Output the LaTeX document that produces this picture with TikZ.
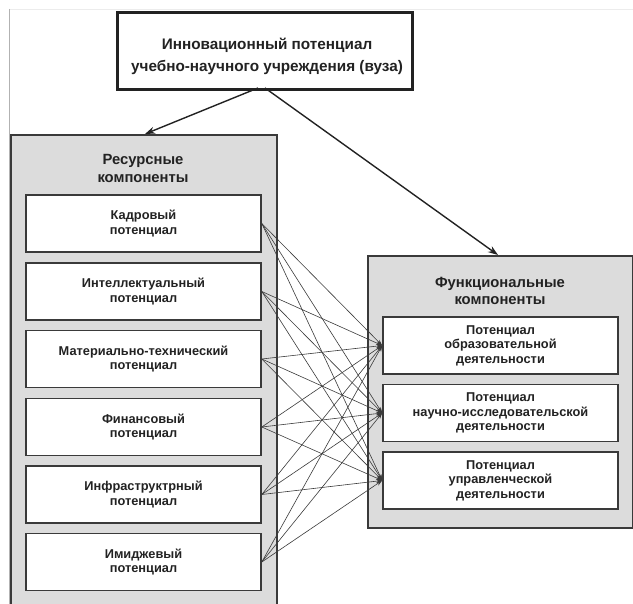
\documentclass[tikz,border=0pt]{standalone}
\usepackage{fontspec}
\setmainfont{Liberation Sans}
\usetikzlibrary{arrows.meta}
\definecolor{panel}{HTML}{DCDCDC}
\definecolor{edge}{HTML}{3A3A3A}
\definecolor{ink}{HTML}{222222}
\begin{document}
\begin{tikzpicture}[x=1pt,y=-1pt,
  inbox/.style={draw=edge, line width=1.6pt, fill=white, minimum width=235pt, minimum height=57pt, inner sep=0pt},
  panelbox/.style={draw=edge, line width=1.6pt, fill=panel, inner sep=0pt},
  boxtext/.style={font=\bfseries\fontsize{12.8}{14.5}\selectfont, text=ink, align=center},
  titletext/.style={font=\bfseries\fontsize{14.8}{17.5}\selectfont, text=ink, align=center},
  link/.style={draw=edge, line width=0.6pt, -{Stealth[length=6pt,width=4pt]}},
  mainarrow/.style={draw=ink, line width=1.4pt, -{Stealth[length=10pt,width=7pt]}}]
\useasboundingbox (0,0) rectangle (633,604);
\clip (0,0) rectangle (633,604);
% faint frame
\draw[gray!15, line width=0.6pt] (9,9) -- (633,9);
\draw[gray!60, line width=1pt] (9,9) -- (9,604);
% panels
\node[panelbox, minimum width=266pt, minimum height=490pt, anchor=north west] (res) at (10,134) {};
\node[panelbox, minimum width=265pt, minimum height=272pt, anchor=north west] (fun) at (367,255) {};
\node[titletext] (restitle) at (143,168.5) {Ресурсные\\компоненты};
\node[titletext] (funtitle) at (500,291) {Функциональные\\компоненты};
% top box
\node[draw=ink, line width=2.6pt, fill=white, minimum width=295pt, minimum height=77pt, anchor=north west, inner sep=0pt] (top) at (116,11) {};
\node[font=\bfseries\fontsize{15.3}{22}\selectfont, text=ink, align=center] (toptext) at (267,56) {Инновационный потенциал\\учебно-научного учреждения (вуза)};
% left boxes
\node[inbox] (r1) at (143.5,223.5) {};
\node[inbox] (r2) at (143.5,291.5) {};
\node[inbox] (r3) at (143.5,359) {};
\node[inbox] (r4) at (143.5,427) {};
\node[inbox] (r5) at (143.5,494.5) {};
\node[inbox] (r6) at (143.5,562) {};
\node[boxtext] at (r1) {Кадровый\\потенциал};
\node[boxtext] at (r2) {Интеллектуальный\\потенциал};
\node[boxtext] at (r3) {Материально-технический\\потенциал};
\node[boxtext] at (r4) {Финансовый\\потенциал};
\node[boxtext] at (r5) {Инфраструктрный\\потенциал};
\node[boxtext] at (r6) {Имиджевый\\потенциал};
% right boxes
\node[inbox] (f1) at (500.5,345.5) {};
\node[inbox] (f2) at (500.5,413) {};
\node[inbox] (f3) at (500.5,480.5) {};
\node[boxtext] at (f1) {Потенциал\\образовательной\\деятельности};
\node[boxtext] at (f2) {Потенциал\\научно-исследовательской\\деятельности};
\node[boxtext] at (f3) {Потенциал\\управленческой\\деятельности};
% main arrows
\coordinate (topL) at (258,88);
\coordinate (topR) at (265,88);
\coordinate (resIn) at (145,134);
\coordinate (funIn) at (498,255);
\draw[mainarrow] (topL) -- (resIn);
\draw[mainarrow] (topR) -- (funIn);
% links
\foreach \r in {r1,r2,r3,r4,r5,r6}{
  \foreach \f in {f1,f2,f3}{
    \draw[link] (\r.east) -- (\f.west);
  }
}
\end{tikzpicture}
\end{document}
